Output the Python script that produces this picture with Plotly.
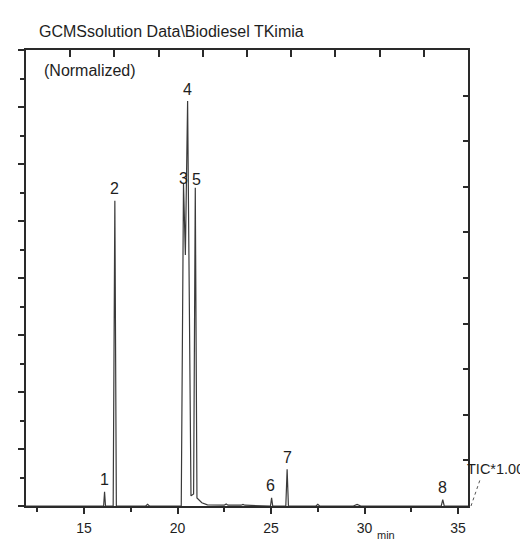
import plotly.graph_objects as go

# Chromatogram (TIC, normalized to peak 4 = 100)
ret_time = [11.9, 16.05, 16.10, 16.15, 16.56, 16.65, 16.73, 18.3, 18.4, 18.5,
            20.20, 20.32, 20.42, 20.54, 20.72, 20.86, 20.95, 21.04, 21.3, 21.6,
            22.5, 22.6, 22.7, 23.4, 23.5, 23.6, 24.97, 25.03, 25.09, 25.79, 25.86, 25.93,
            27.4, 27.5, 27.6, 29.4, 29.6, 29.8, 34.10, 34.18, 34.26, 35.53]
intensity = [0.0, 0.0, 3.5, 0.0, 0.0, 75.4, 0.0, 0.0, 0.4, 0.0,
             0.0, 79.5, 62.0, 100.0, 2.5, 3.0, 78.6, 2.0, 0.8, 0.3,
             0.2, 0.5, 0.2, 0.2, 0.4, 0.2, 0.0, 2.0, 0.0, 0.0, 9.1, 0.0,
             0.0, 0.4, 0.0, 0.0, 0.4, 0.0, 0.0, 1.6, 0.0, 0.0]

peak_labels = ["1", "2", "3", "4", "5", "6", "7", "8"]
peak_rt = [16.10, 16.65, 20.32, 20.54, 20.99, 24.95, 25.86, 34.18]
peak_height = [3.5, 75.4, 79.5, 100.0, 78.6, 2.0, 9.1, 1.6]

x_ticks = [15, 20, 25, 30, 35]
x_tick_text = ["15", "20", "25", "30", "35"]

title_text = "GCMSsolution Data\\Biodiesel TKimia"
FONT = "Arial, Liberation Sans, sans-serif"
AX = "#2a2a2a"
TXT = "#1e1e1e"

fig = go.Figure()
fig.add_trace(go.Scatter(x=ret_time, y=intensity, mode="lines",
                         line=dict(color="#3a3a3a", width=1.2),
                         hoverinfo="skip", showlegend=False))
# empty traces to carry the frame axes
fig.add_trace(go.Scatter(x=[None], y=[None], xaxis="x", yaxis="y2", showlegend=False, hoverinfo="skip"))
fig.add_trace(go.Scatter(x=[None], y=[None], xaxis="x", yaxis="y3", showlegend=False, hoverinfo="skip"))
fig.add_trace(go.Scatter(x=[None], y=[None], xaxis="x2", yaxis="y", showlegend=False, hoverinfo="skip"))

label_shift = {"3": 6, "5": 8}
for lab, rt, h in zip(peak_labels, peak_rt, peak_height):
    fig.add_annotation(x=rt, y=h, text=lab, showarrow=False,
                       yanchor="middle", yshift=label_shift.get(lab, 12),
                       font=dict(family=FONT, size=16, color=TXT))

fig.add_annotation(xref="paper", yref="paper", x=0.0248, y=1.0416, text=title_text,
                   showarrow=False, xanchor="left", yanchor="middle",
                   font=dict(family=FONT, size=16, color=TXT))
fig.add_annotation(xref="paper", yref="paper", x=0.036, y=0.954, text="(Normalized)",
                   showarrow=False, xanchor="left", yanchor="middle",
                   font=dict(family=FONT, size=16, color=TXT))
fig.add_annotation(xref="paper", yref="paper", x=0.995, y=0.081, text="TIC*1.00",
                   showarrow=False, xanchor="left", yanchor="middle", borderpad=0,
                   font=dict(family=FONT, size=14.5, color=TXT))
fig.add_annotation(xref="paper", yref="paper", x=0.815, y=-0.064, text="min",
                   showarrow=False, xanchor="center", yanchor="middle", borderpad=0,
                   font=dict(family=FONT, size=11, color=TXT))
fig.add_shape(type="line", xref="paper", yref="paper", x0=1.0068, y0=0.0, x1=1.027, y1=0.057,
              line=dict(color="#555", width=1, dash="dot"))

fig.update_layout(
    width=528, height=540,
    margin=dict(l=16, r=68, t=42, b=41),
    paper_bgcolor="white", plot_bgcolor="white",
    xaxis=dict(range=[11.9, 35.53], tickmode="array", tickvals=x_ticks, ticktext=x_tick_text,
               ticks="outside", ticklen=6, tickwidth=1.5, tickcolor=AX,
               showline=True, linecolor=AX, linewidth=2, showgrid=False, zeroline=False,
               tickfont=dict(family=FONT, size=14, color=TXT), ticklabelstandoff=2,
               minor=dict(tickmode="linear", tick0=0, dtick=2.5, ticks="outside", ticklen=4,
                          tickwidth=1.5, tickcolor=AX)),
    yaxis=dict(range=[0, 112.6], showticklabels=False, ticks="", showline=False,
               showgrid=False, zeroline=False),
    yaxis2=dict(overlaying="y", side="left", range=[0, 16], tickmode="linear", tick0=0, dtick=2,
                ticks="outside", ticklen=6, tickwidth=1.5, tickcolor=AX, showticklabels=False,
                showline=True, linecolor=AX, linewidth=2, showgrid=False, zeroline=False,
                minor=dict(tickmode="linear", tick0=0, dtick=1, ticks="outside", ticklen=4,
                           tickwidth=1.5, tickcolor=AX)),
    yaxis3=dict(overlaying="y", side="right", range=[0, 10], tickmode="linear", tick0=0, dtick=1,
                ticks="inside", ticklen=5, tickwidth=1.5, tickcolor=AX, showticklabels=False,
                showline=True, linecolor=AX, linewidth=2, showgrid=False, zeroline=False),
    xaxis2=dict(overlaying="x", side="top", range=[0, 10], tickmode="linear", tick0=0, dtick=1,
                ticks="inside", ticklen=7, tickwidth=1.5, tickcolor=AX, showticklabels=False,
                showline=True, linecolor=AX, linewidth=2, showgrid=False, zeroline=False),
)

fig.write_html("out.html")
